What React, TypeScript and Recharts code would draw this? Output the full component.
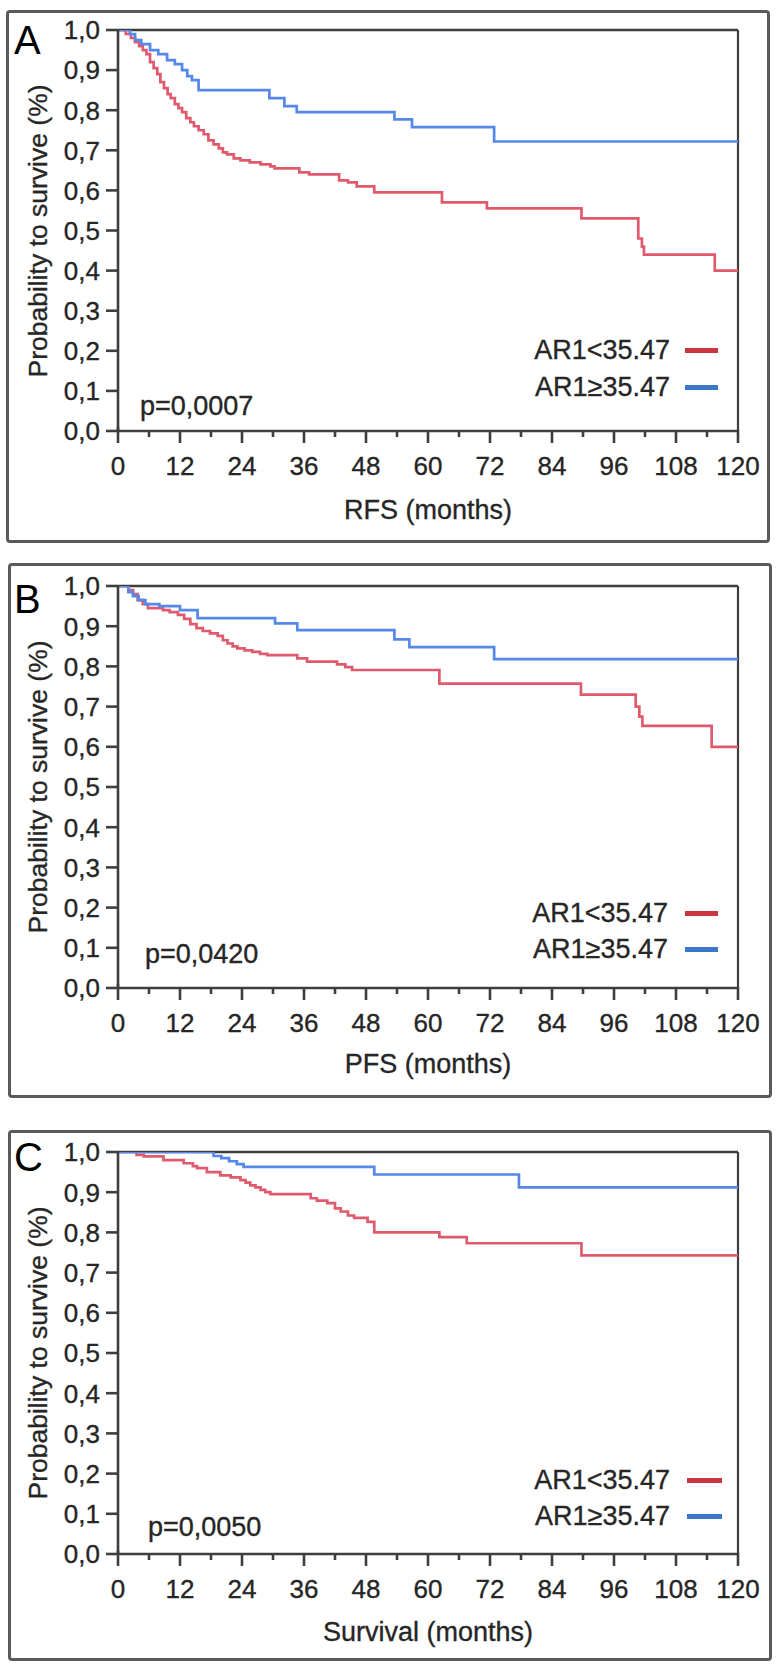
import React from 'react';
import { LineChart, Line, XAxis, YAxis, ReferenceLine, Legend } from 'recharts';

// ---------- data ----------
const monthTicks = [0, 6, 12, 18, 24, 30, 36, 42, 48, 54, 60, 66, 72, 78, 84, 90, 96, 102, 108, 114, 120];
const xTickLabels = ['0', '12', '24', '36', '48', '60', '72', '84', '96', '108', '120'];
const survTicks = [0, 0.1, 0.2, 0.3, 0.4, 0.5, 0.6, 0.7, 0.8, 0.9, 1.0];
const yTickLabels = ['0,0', '0,1', '0,2', '0,3', '0,4', '0,5', '0,6', '0,7', '0,8', '0,9', '1,0'];
const seriesNames = ['AR1<35.47', 'AR1\u226535.47'];
const panelLetters = ['A', 'B', 'C'];
const xTitles = ['RFS (months)', 'PFS (months)', 'Survival (months)'];
const yTitle = 'Probability to survive (%)';
const pValues = ['p=0,0007', 'p=0,0420', 'p=0,0050'];

// Panel A – RFS
const rfsLowMonths = [0, 1.5, 2.5, 3.3, 4.1, 4.8, 5.5, 6.2, 6.9, 7.6, 8.2, 8.9, 9.6, 10.2, 11.0, 11.7, 12.4, 13.2, 14.0, 14.7, 15.6, 16.6, 17.5, 18.5, 19.5, 20.3, 21.1, 22.4, 23.7, 25.5, 27.6, 29.5, 30.3, 35.1, 37.0, 42.8, 44.5, 46.2, 49.6, 62.7, 71.4, 89.7, 100.7, 101.4, 101.8, 115.5, 120];
const rfsLowSurv = [1.0, 0.99, 0.98, 0.97, 0.96, 0.95, 0.94, 0.92, 0.905, 0.89, 0.87, 0.855, 0.84, 0.83, 0.815, 0.805, 0.795, 0.78, 0.77, 0.76, 0.75, 0.74, 0.725, 0.715, 0.705, 0.695, 0.69, 0.68, 0.675, 0.67, 0.665, 0.66, 0.655, 0.645, 0.64, 0.625, 0.62, 0.61, 0.595, 0.57, 0.555, 0.53, 0.48, 0.46, 0.44, 0.40, 0.40];
const rfsHighMonths = [0, 2.3, 3.3, 4.5, 6.2, 7.8, 9.5, 11.0, 12.4, 13.4, 14.3, 15.6, 29.3, 32.2, 34.6, 53.5, 56.9, 72.8, 120];
const rfsHighSurv = [1.0, 0.99, 0.975, 0.965, 0.95, 0.94, 0.925, 0.915, 0.9, 0.885, 0.875, 0.85, 0.83, 0.81, 0.795, 0.777, 0.758, 0.722, 0.722];

// Panel B – PFS
const pfsLowMonths = [0, 2.0, 2.9, 3.8, 4.8, 5.8, 8.7, 10.0, 11.6, 12.8, 14.0, 15.2, 16.4, 17.8, 19.3, 20.3, 21.2, 22.2, 23.1, 24.5, 26.0, 27.5, 28.9, 34.7, 36.6, 42.4, 44.0, 45.3, 62.2, 89.6, 100.2, 100.9, 101.5, 114.9, 120];
const pfsLowSurv = [1.0, 0.99, 0.98, 0.965, 0.955, 0.945, 0.94, 0.935, 0.928, 0.918, 0.905, 0.895, 0.888, 0.882, 0.876, 0.865, 0.857, 0.85, 0.845, 0.84, 0.836, 0.831, 0.828, 0.82, 0.812, 0.805, 0.798, 0.791, 0.757, 0.73, 0.70, 0.675, 0.652, 0.60, 0.60];
const pfsHighMonths = [0, 2.0, 2.9, 4.0, 5.3, 8.0, 12.0, 15.4, 30.4, 34.7, 53.5, 56.4, 72.8, 120];
const pfsHighSurv = [1.0, 0.985, 0.975, 0.965, 0.955, 0.95, 0.94, 0.92, 0.907, 0.89, 0.867, 0.848, 0.818, 0.818];

// Panel C – overall survival
const osLowMonths = [0, 3.6, 5.0, 8.8, 12.7, 14.5, 15.3, 17.2, 19.8, 21.8, 23.7, 24.7, 25.6, 26.6, 27.6, 28.5, 29.5, 37.3, 38.5, 40.5, 42.0, 43.1, 44.5, 45.7, 48.3, 49.6, 62.2, 67.5, 89.7, 120];
const osLowSurv = [1.0, 0.993, 0.989, 0.98, 0.972, 0.965, 0.96, 0.95, 0.942, 0.937, 0.93, 0.924, 0.917, 0.912, 0.906, 0.9, 0.895, 0.885, 0.879, 0.873, 0.86, 0.852, 0.842, 0.836, 0.826, 0.8, 0.788, 0.773, 0.743, 0.743];
const osHighMonths = [0, 18.5, 20.0, 21.5, 23.0, 24.3, 49.6, 77.6, 120];
const osHighSurv = [1.0, 0.99, 0.985, 0.977, 0.97, 0.963, 0.944, 0.912, 0.912];

// ---------- styling / layout ----------
const RED = '#e05a6e';
const BLUE = '#5588e8';
const RED_LEG = '#c9363f';
const BLUE_LEG = '#3d78c8';
const AXIS = '#3e3e3e';
const TEXT = '#262626';
const FONT = "'Liberation Sans', Arial, sans-serif";
const W = 779;
const PLOT_LEFT = 118;
const PLOT_RIGHT = 738;
const Y_AXIS_W = 40;
const X_AXIS_H = 40;

const panels = [
  { boxLeft: 6, boxRight: 770, boxTop: 10, boxBottom: 543, plotTop: 30, plotBottom: 431, letterTop: 25, pX: 140, pY: 406, legRed: 350, legBlue: 387, titleY: 510, legTextRight: 670, legLine: [685, 718] },
  { boxLeft: 8, boxRight: 772, boxTop: 563, boxBottom: 1098, plotTop: 586, plotBottom: 988, letterTop: 584, pX: 145, pY: 954, legRed: 913, legBlue: 949, titleY: 1064, legTextRight: 668, legLine: [685, 718] },
  { boxLeft: 8, boxRight: 772, boxTop: 1130, boxBottom: 1661, plotTop: 1152, plotBottom: 1554, letterTop: 1142, pX: 148, pY: 1527, legRed: 1480, legBlue: 1516, titleY: 1632, legTextRight: 670, legLine: [687, 722] },
];

const toPoints = (months: number[], surv: number[]) => months.map((t, i) => ({ t, s: surv[i] }));

const seriesData = [
  [toPoints(rfsLowMonths, rfsLowSurv), toPoints(rfsHighMonths, rfsHighSurv)],
  [toPoints(pfsLowMonths, pfsLowSurv), toPoints(pfsHighMonths, pfsHighSurv)],
  [toPoints(osLowMonths, osLowSurv), toPoints(osHighMonths, osHighSurv)],
];

const svgTextStyle = { stroke: TEXT, strokeWidth: 0.35 } as const;
const htmlTextStroke = { WebkitTextStroke: `0.35px ${TEXT}` } as any;

const XTick = (props: any) => {
  const { x, y, payload } = props;
  const v = payload.value as number;
  const major = v % 12 === 0;
  const label = major ? xTickLabels[v / 12] : '';
  return (
    <g>
      <line x1={x} x2={x} y1={v === 0 ? y - 4 : y - 1} y2={y + (major ? 12 : 6)} stroke={AXIS} strokeWidth={2.6} />
      {major && (
        <text x={x} y={y + 35 + 9.3} textAnchor="middle" fontSize={26} fontFamily={FONT} fill={TEXT} style={svgTextStyle}>
          {label}
        </text>
      )}
    </g>
  );
};

const YTick = (props: any) => {
  const { x, y, payload } = props;
  const idx = Math.round((payload.value as number) * 10);
  return (
    <g>
      <line x1={x - 12} x2={x} y1={y} y2={y} stroke={AXIS} strokeWidth={2.6} />
      <text x={x - 18} y={y + 9.3} textAnchor="end" fontSize={26} fontFamily={FONT} fill={TEXT} style={svgTextStyle}>
        {yTickLabels[idx]}
      </text>
    </g>
  );
};

function Panel({ idx }: { idx: number }) {
  const cfg = panels[idx];
  const H = cfg.boxBottom - cfg.boxTop;
  const [low, high] = seriesData[idx];
  const legRows = [
    { name: seriesNames[0], color: RED_LEG, y: cfg.legRed - cfg.boxTop },
    { name: seriesNames[1], color: BLUE_LEG, y: cfg.legBlue - cfg.boxTop },
  ];
  const fs = 27;
  return (
    <>
      <div
        style={{
          position: 'absolute',
          left: cfg.boxLeft,
          top: cfg.boxTop,
          width: cfg.boxRight - cfg.boxLeft,
          height: H,
          border: '3px solid #5a5a5a',
          borderRadius: 4,
          boxSizing: 'border-box',
        }}
      />
      <div style={{ position: 'absolute', left: 0, top: cfg.boxTop, width: W, height: H }}>
        <LineChart
          width={W}
          height={H}
          margin={{
            top: cfg.plotTop - cfg.boxTop,
            right: W - PLOT_RIGHT,
            bottom: cfg.boxBottom - cfg.plotBottom - X_AXIS_H,
            left: PLOT_LEFT - Y_AXIS_W,
          }}
        >
          <XAxis
            type="number"
            dataKey="t"
            domain={[0, 120]}
            ticks={monthTicks}
            interval={0}
            height={X_AXIS_H}
            tickSize={0}
            tickMargin={0}
            tickLine={false}
            axisLine={{ stroke: AXIS, strokeWidth: 2.6 }}
            tick={(p: any) => <XTick {...p} />}
            allowDataOverflow
          />
          <YAxis
            type="number"
            dataKey="s"
            domain={[0, 1]}
            ticks={survTicks}
            interval={0}
            width={Y_AXIS_W}
            tickSize={0}
            tickMargin={0}
            tickLine={false}
            axisLine={{ stroke: AXIS, strokeWidth: 2.6 }}
            tick={(p: any) => <YTick {...p} />}
            allowDataOverflow
          />
          <ReferenceLine y={1} stroke={AXIS} strokeWidth={2.6} ifOverflow="visible" />
          <ReferenceLine x={120} stroke={AXIS} strokeWidth={2.2} ifOverflow="visible" />
          <Line data={low} dataKey="s" name={seriesNames[0]} type="stepAfter" stroke={RED} strokeWidth={2.7} dot={false} isAnimationActive={false} />
          <Line data={high} dataKey="s" name={seriesNames[1]} type="stepAfter" stroke={BLUE} strokeWidth={2.7} dot={false} isAnimationActive={false} />
          <Legend
            layout="horizontal"
            verticalAlign="middle"
            align="center"
            wrapperStyle={{ left: 0, top: 0, width: W, height: 0 }}
            content={() => (
              <div style={{ position: 'relative', width: W, height: 0 }}>
                {legRows.map((r) => (
                  <div key={r.name}>
                    <div
                      style={{
                        position: 'absolute',
                        right: W - cfg.legTextRight,
                        top: r.y - 0.49 * fs,
                        fontSize: fs,
                        lineHeight: 1,
                        fontFamily: FONT,
                        color: TEXT,
                        whiteSpace: 'nowrap',
                        ...htmlTextStroke,
                      }}
                    >
                      {r.name}
                    </div>
                    <div
                      style={{
                        position: 'absolute',
                        left: cfg.legLine[0],
                        width: cfg.legLine[1] - cfg.legLine[0],
                        top: r.y - 2,
                        height: 4.5,
                        background: r.color,
                      }}
                    />
                  </div>
                ))}
              </div>
            )}
          />
        </LineChart>
      </div>
      {/* panel letter */}
      <div
        style={{
          position: 'absolute',
          left: 14,
          top: cfg.letterTop - 5.3,
          fontSize: 40,
          lineHeight: 1,
          fontFamily: FONT,
          color: '#000',
        }}
      >
        {panelLetters[idx]}
      </div>
      {/* p value */}
      <div
        style={{
          position: 'absolute',
          left: cfg.pX,
          top: cfg.pY - 0.49 * fs,
          fontSize: fs,
          lineHeight: 1,
          fontFamily: FONT,
          color: TEXT,
          whiteSpace: 'nowrap',
          ...htmlTextStroke,
        }}
      >
        {pValues[idx]}
      </div>
      {/* x title */}
      <div
        style={{
          position: 'absolute',
          left: (PLOT_LEFT + PLOT_RIGHT) / 2 - 200,
          width: 400,
          textAlign: 'center',
          top: cfg.titleY - 0.49 * fs,
          fontSize: fs,
          lineHeight: 1,
          fontFamily: FONT,
          color: TEXT,
          ...htmlTextStroke,
        }}
      >
        {xTitles[idx]}
      </div>
      {/* y title */}
      <div
        style={{
          position: 'absolute',
          left: 38,
          top: (cfg.plotTop + cfg.plotBottom) / 2,
          width: 400,
          textAlign: 'center',
          fontSize: 26.5,
          lineHeight: 1,
          fontFamily: FONT,
          color: TEXT,
          whiteSpace: 'nowrap',
          transform: 'translate(-50%, -50%) rotate(-90deg)',
          ...htmlTextStroke,
        }}
      >
        {yTitle}
      </div>
    </>
  );
}

export default function App() {
  return (
    <div style={{ position: 'absolute', left: 0, top: 0, width: W, height: 1668, background: '#fff', overflow: 'hidden' }}>
      <Panel idx={0} />
      <Panel idx={1} />
      <Panel idx={2} />
    </div>
  );
}
